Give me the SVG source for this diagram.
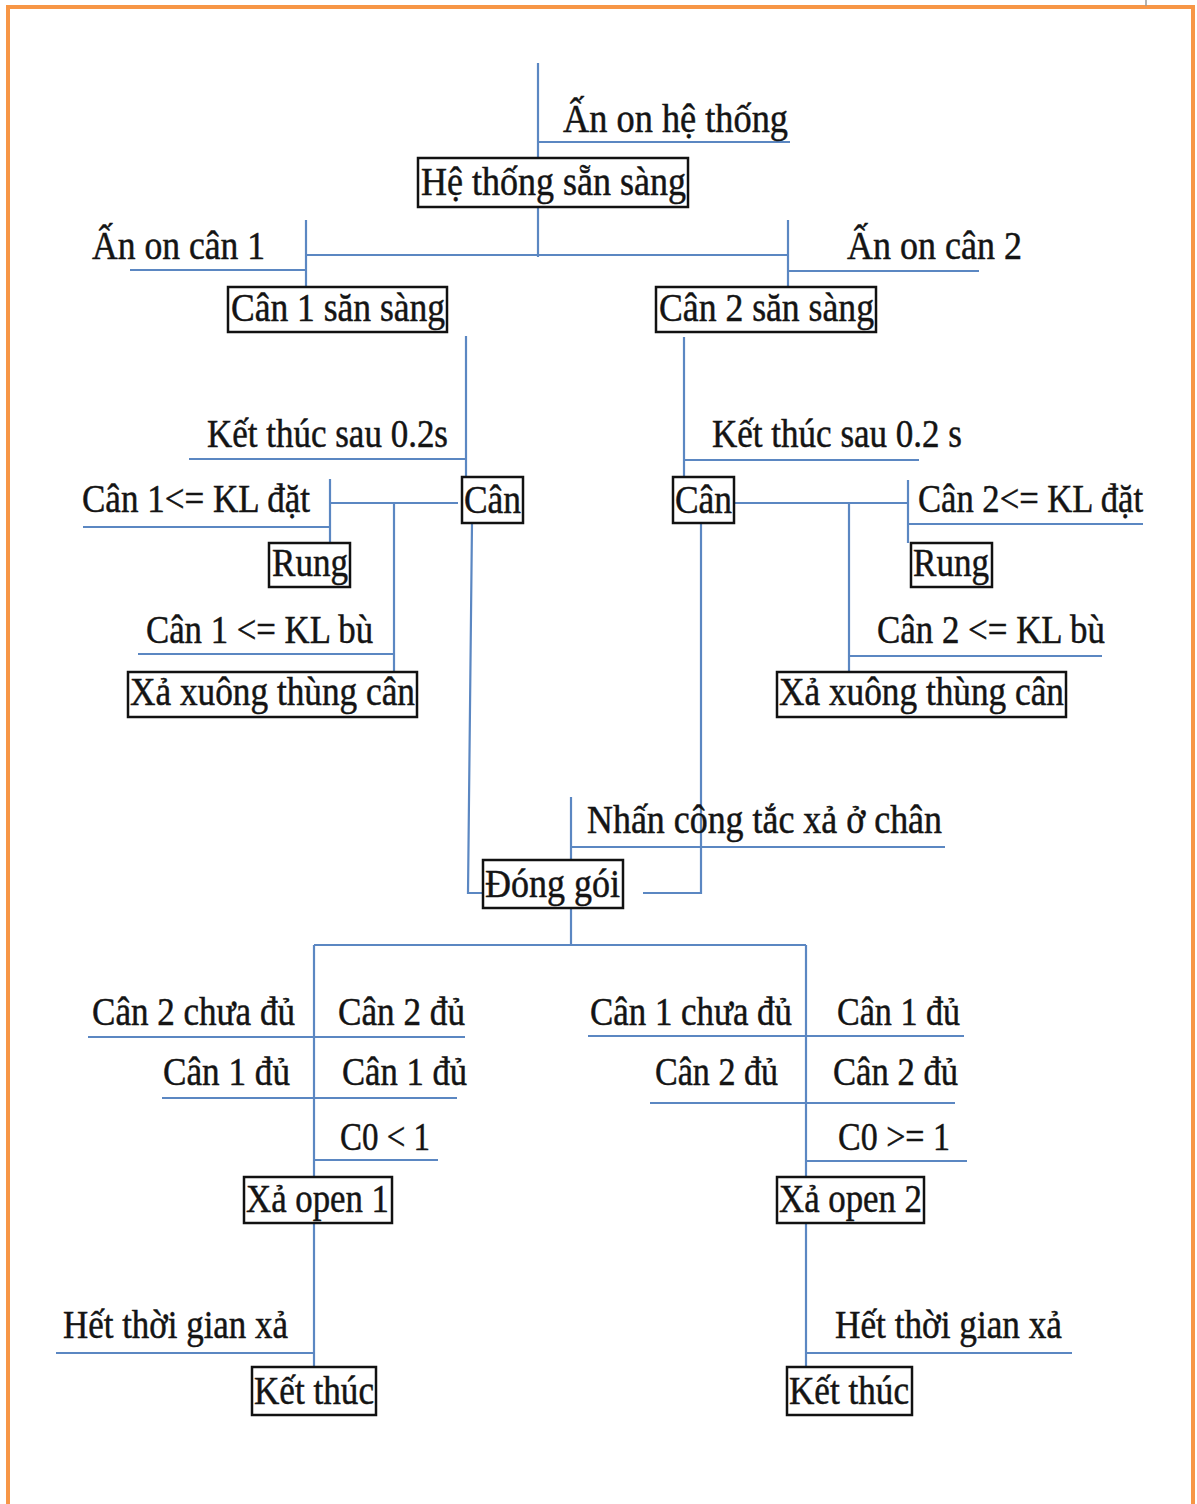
<svg xmlns="http://www.w3.org/2000/svg" width="1197" height="1504" viewBox="0 0 1197 1504">
  <style>
    .frame { fill: none; stroke: #f79646; stroke-width: 4; }
    .link { fill: none; stroke: #5b87c2; stroke-width: 2.2; }
    .box { fill: #ffffff; stroke: #111111; stroke-width: 2.5; }
    .t { font-family: "Liberation Serif", "DejaVu Serif", serif; font-size: 41px; fill: #141414; stroke: #141414; stroke-width: 0.5; }
  </style>

  <rect x="0" y="0" width="1197" height="1504" fill="#ffffff"/>
  <!-- page frame -->
  <path class="frame" d="M8 1504 V7 H1193 V1504"/>
  <line x1="1146" y1="0" x2="1146" y2="6" stroke="#9a9a9a" stroke-width="1.5"/>

  <!-- connectors -->
  <g id="connectors">
    <path class="link" d="M538 63 V257"/>
    <path class="link" d="M538 142 H790"/>
    <path class="link" d="M306 255 H788"/>
    <path class="link" d="M306 220 V288"/>
    <path class="link" d="M130 270 H306"/>
    <path class="link" d="M788 220 V288"/>
    <path class="link" d="M788 271 H979"/>

    <path class="link" d="M466 336 V478"/>
    <path class="link" d="M189 459 H466"/>
    <path class="link" d="M330 503 H458"/>
    <path class="link" d="M330 479 V543"/>
    <path class="link" d="M83 527 H330"/>
    <path class="link" d="M394 503 V672"/>
    <path class="link" d="M138 654 H394"/>
    <path class="link" d="M472 523 L468 893 H487"/>

    <path class="link" d="M684 337 V480"/>
    <path class="link" d="M684 460 H919"/>
    <path class="link" d="M730 503 H908"/>
    <path class="link" d="M908 480 V543"/>
    <path class="link" d="M908 524 H1143"/>
    <path class="link" d="M849 503 V673"/>
    <path class="link" d="M849 656 H1102"/>
    <path class="link" d="M701 523 V893 H643"/>

    <path class="link" d="M571 797 V860"/>
    <path class="link" d="M571 847 H945"/>
    <path class="link" d="M571 908 V945"/>
    <path class="link" d="M314 945 H806"/>

    <path class="link" d="M314 945 V1178"/>
    <path class="link" d="M88 1037 H465"/>
    <path class="link" d="M162 1098 H457"/>
    <path class="link" d="M314 1160 H438"/>

    <path class="link" d="M806 945 V1178"/>
    <path class="link" d="M588 1036 H964"/>
    <path class="link" d="M650 1103 H955"/>
    <path class="link" d="M806 1161 H967"/>

    <path class="link" d="M314 1223 V1368"/>
    <path class="link" d="M56 1353 H314"/>
    <path class="link" d="M806 1223 V1368"/>
    <path class="link" d="M806 1353 H1072"/>
  </g>

  <!-- transition labels -->
  <g id="labels">
    <text class="t" x="563" y="132" textLength="225" lengthAdjust="spacingAndGlyphs">Ấn on hệ thống</text>
    <text class="t" x="92" y="259" textLength="173" lengthAdjust="spacingAndGlyphs">Ấn on cân 1</text>
    <text class="t" x="847" y="259" textLength="175" lengthAdjust="spacingAndGlyphs">Ấn on cân 2</text>
    <text class="t" x="207" y="447" textLength="241" lengthAdjust="spacingAndGlyphs">Kết thúc sau 0.2s</text>
    <text class="t" x="712" y="447" textLength="250" lengthAdjust="spacingAndGlyphs">Kết thúc sau 0.2 s</text>
    <text class="t" x="82" y="512" textLength="228" lengthAdjust="spacingAndGlyphs">Cân 1&lt;= KL đặt</text>
    <text class="t" x="918" y="512" textLength="225" lengthAdjust="spacingAndGlyphs">Cân 2&lt;= KL đặt</text>
    <text class="t" x="146" y="643" textLength="227" lengthAdjust="spacingAndGlyphs">Cân 1 &lt;= KL bù</text>
    <text class="t" x="877" y="643" textLength="228" lengthAdjust="spacingAndGlyphs">Cân 2 &lt;= KL bù</text>
    <text class="t" x="587" y="833" textLength="355" lengthAdjust="spacingAndGlyphs">Nhấn công tắc xả ở chân</text>
    <text class="t" x="92" y="1025" textLength="203" lengthAdjust="spacingAndGlyphs">Cân 2 chưa đủ</text>
    <text class="t" x="338" y="1025" textLength="127" lengthAdjust="spacingAndGlyphs">Cân 2 đủ</text>
    <text class="t" x="163" y="1085" textLength="127" lengthAdjust="spacingAndGlyphs">Cân 1 đủ</text>
    <text class="t" x="342" y="1085" textLength="125" lengthAdjust="spacingAndGlyphs">Cân 1 đủ</text>
    <text class="t" x="340" y="1150" textLength="90" lengthAdjust="spacingAndGlyphs">C0 &lt; 1</text>
    <text class="t" x="590" y="1025" textLength="202" lengthAdjust="spacingAndGlyphs">Cân 1 chưa đủ</text>
    <text class="t" x="837" y="1025" textLength="123" lengthAdjust="spacingAndGlyphs">Cân 1 đủ</text>
    <text class="t" x="655" y="1085" textLength="123" lengthAdjust="spacingAndGlyphs">Cân 2 đủ</text>
    <text class="t" x="833" y="1085" textLength="125" lengthAdjust="spacingAndGlyphs">Cân 2 đủ</text>
    <text class="t" x="838" y="1150" textLength="112" lengthAdjust="spacingAndGlyphs">C0 &gt;= 1</text>
    <text class="t" x="63" y="1338" textLength="225" lengthAdjust="spacingAndGlyphs">Hết thời gian xả</text>
    <text class="t" x="835" y="1338" textLength="227" lengthAdjust="spacingAndGlyphs">Hết thời gian xả</text>
  </g>

  <!-- state nodes -->
  <g id="he-thong-san-sang">
    <rect class="box" x="418" y="158" width="270" height="49"/>
    <text class="t" x="421" y="195" textLength="265" lengthAdjust="spacingAndGlyphs">Hệ thống sẵn sàng</text>
  </g>
  <g id="can1-san-sang">
    <rect class="box" x="228" y="287" width="219" height="45"/>
    <text class="t" x="231" y="321" textLength="214" lengthAdjust="spacingAndGlyphs">Cân 1 săn sàng</text>
  </g>
  <g id="can2-san-sang">
    <rect class="box" x="656" y="287" width="220" height="45"/>
    <text class="t" x="659" y="321" textLength="215" lengthAdjust="spacingAndGlyphs">Cân 2 săn sàng</text>
  </g>
  <g id="can-1">
    <rect class="box" x="462" y="477" width="61" height="46"/>
    <text class="t" x="464" y="513" textLength="57" lengthAdjust="spacingAndGlyphs">Cân</text>
  </g>
  <g id="can-2">
    <rect class="box" x="673" y="477" width="61" height="46"/>
    <text class="t" x="675" y="513" textLength="57" lengthAdjust="spacingAndGlyphs">Cân</text>
  </g>
  <g id="rung-1">
    <rect class="box" x="269" y="543" width="81" height="44"/>
    <text class="t" x="272" y="576" textLength="76" lengthAdjust="spacingAndGlyphs">Rung</text>
  </g>
  <g id="rung-2">
    <rect class="box" x="911" y="543" width="81" height="44"/>
    <text class="t" x="913" y="576" textLength="76" lengthAdjust="spacingAndGlyphs">Rung</text>
  </g>
  <g id="xa-xuong-1">
    <rect class="box" x="128" y="672" width="289" height="45"/>
    <text class="t" x="130" y="705" textLength="285" lengthAdjust="spacingAndGlyphs">Xả xuông thùng cân</text>
  </g>
  <g id="xa-xuong-2">
    <rect class="box" x="777" y="672" width="289" height="45"/>
    <text class="t" x="779" y="705" textLength="285" lengthAdjust="spacingAndGlyphs">Xả xuông thùng cân</text>
  </g>
  <g id="dong-goi">
    <rect class="box" x="483" y="860" width="140" height="48"/>
    <text class="t" x="485" y="897" textLength="135" lengthAdjust="spacingAndGlyphs">Đóng gói</text>
  </g>
  <g id="xa-open-1">
    <rect class="box" x="244" y="1177" width="148" height="46"/>
    <text class="t" x="246" y="1212" textLength="143" lengthAdjust="spacingAndGlyphs">Xả open 1</text>
  </g>
  <g id="xa-open-2">
    <rect class="box" x="777" y="1177" width="147" height="46"/>
    <text class="t" x="779" y="1212" textLength="143" lengthAdjust="spacingAndGlyphs">Xả open 2</text>
  </g>
  <g id="ket-thuc-1">
    <rect class="box" x="252" y="1367" width="124" height="48"/>
    <text class="t" x="254" y="1404" textLength="120" lengthAdjust="spacingAndGlyphs">Kết thúc</text>
  </g>
  <g id="ket-thuc-2">
    <rect class="box" x="787" y="1367" width="125" height="48"/>
    <text class="t" x="789" y="1404" textLength="120" lengthAdjust="spacingAndGlyphs">Kết thúc</text>
  </g>
</svg>
